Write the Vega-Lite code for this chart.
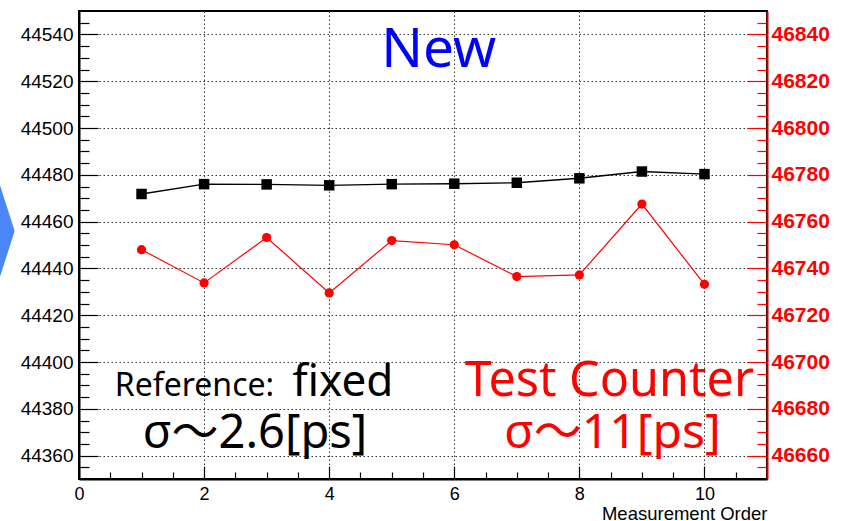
{
  "$schema": "https://vega.github.io/schema/vega-lite/v6.json",
  "width": 688,
  "height": 468,
  "autosize": {"type": "none"},
  "padding": {"left": 79, "top": 11, "right": 85, "bottom": 42},
  "background": "white",
  "config": {
    "view": {"stroke": "black", "strokeWidth": 2},
    "axis": {"labelFont": "Liberation Sans", "titleFont": "Liberation Sans"}
  },
  "datasets": {
    "runs": [
      {"order": 1, "ref": 44471.8, "test": 46748.0},
      {"order": 2, "ref": 44476.0, "test": 46733.8},
      {"order": 3, "ref": 44475.9, "test": 46753.2},
      {"order": 4, "ref": 44475.5, "test": 46729.5},
      {"order": 5, "ref": 44476.0, "test": 46751.9},
      {"order": 6, "ref": 44476.2, "test": 46750.1},
      {"order": 7, "ref": 44476.6, "test": 46736.5},
      {"order": 8, "ref": 44478.5, "test": 46737.2},
      {"order": 9, "ref": 44481.4, "test": 46767.5},
      {"order": 10, "ref": 44480.3, "test": 46733.2}
    ],
    "single": [{}]
  },
  "resolve": {
    "scale": {"x": "independent", "y": "independent"},
    "axis": {"x": "independent", "y": "independent"}
  },
  "layer": [
    {
      "data": {"name": "single"},
      "mark": {"type": "point", "opacity": 0},
      "encoding": {
        "x": {"datum": 1, "type": "quantitative", "scale": {"domain": [0, 11], "nice": false, "zero": false},
          "axis": {"orient": "bottom", "values": [0.5, 1, 1.5, 2.5, 3, 3.5, 4.5, 5, 5.5, 6.5, 7, 7.5, 8.5, 9, 9.5, 10.5],
            "tickSize": -7, "tickWidth": 1.2, "tickColor": "black", "labels": false, "domain": false, "grid": false, "title": null}},
        "y": {"datum": 44450, "type": "quantitative", "scale": {"domain": [44350, 44550], "nice": false, "zero": false}, "axis": null}
      }
    },
    {
      "data": {"name": "single"},
      "mark": {"type": "point", "opacity": 0},
      "encoding": {
        "x": {"datum": 1, "type": "quantitative", "scale": {"domain": [0, 11], "nice": false, "zero": false}, "axis": null},
        "y": {"datum": 44450, "type": "quantitative", "scale": {"domain": [44350, 44550], "nice": false, "zero": false},
          "axis": {"orient": "left", "values": [44355, 44365, 44370, 44375, 44385, 44390, 44395, 44405, 44410, 44415, 44425, 44430, 44435, 44445, 44450, 44455, 44465, 44470, 44475, 44485, 44490, 44495, 44505, 44510, 44515, 44525, 44530, 44535, 44545],
            "tickSize": -10, "tickWidth": 1.2, "tickColor": "black", "labels": false, "domain": false, "grid": false, "title": null}}
      }
    },
    {
      "data": {"name": "single"},
      "mark": {"type": "point", "opacity": 0},
      "encoding": {
        "x": {"datum": 1, "type": "quantitative", "scale": {"domain": [0, 11], "nice": false, "zero": false}, "axis": null},
        "y": {"datum": 46750, "type": "quantitative", "scale": {"domain": [46650, 46850], "nice": false, "zero": false},
          "axis": {"orient": "right", "values": [46655, 46665, 46670, 46675, 46685, 46690, 46695, 46705, 46710, 46715, 46725, 46730, 46735, 46745, 46750, 46755, 46765, 46770, 46775, 46785, 46790, 46795, 46805, 46810, 46815, 46825, 46830, 46835, 46845],
            "tickSize": -10, "tickWidth": 1.2, "tickColor": "#ff0000", "labels": false, "domain": false, "grid": false, "title": null}}
      }
    },
    {
      "data": {"name": "runs"},
      "mark": {"type": "line", "color": "black", "strokeWidth": 1.4,
        "point": {"shape": "square", "size": 110, "filled": true, "color": "black", "opacity": 1}},
      "encoding": {
        "x": {"field": "order", "type": "quantitative", "scale": {"domain": [0, 11], "nice": false, "zero": false},
          "axis": {"orient": "bottom", "values": [0, 2, 4, 6, 8, 10], "tickSize": -13, "tickWidth": 1.2, "tickColor": "black",
            "domainColor": "black", "domainWidth": 2, "labelFontSize": 18, "labelColor": "black", "labelBaseline": "alphabetic", "labelPadding": 33,
            "labelFlush": false, "labelOverlap": false,
            "grid": true, "gridColor": "#333333", "gridDash": [1.5, 2.5], "gridWidth": 1,
            "title": "Measurement Order", "titleFontSize": 18.5, "titleFontWeight": "normal", "titleColor": "black",
            "titleX": 688, "titleY": 40, "titleAlign": "right", "titleBaseline": "alphabetic"}},
        "y": {"field": "ref", "type": "quantitative", "scale": {"domain": [44350, 44550], "nice": false, "zero": false},
          "axis": {"orient": "left", "values": [44360, 44380, 44400, 44420, 44440, 44460, 44480, 44500, 44520, 44540], "format": "d",
            "tickSize": -19, "tickWidth": 1.2, "tickColor": "black", "domainColor": "black", "domainWidth": 2,
            "labelFontSize": 19, "labelColor": "black", "labelPadding": 25, "labelFlush": false, "labelOverlap": false,
            "grid": true, "gridColor": "#333333", "gridDash": [1.5, 2.5], "gridWidth": 1, "title": null}}
      }
    },
    {
      "data": {"name": "runs"},
      "mark": {"type": "line", "color": "#ff0000", "strokeWidth": 1.2,
        "point": {"shape": "circle", "size": 85, "filled": true, "color": "#ff0000", "opacity": 1}},
      "encoding": {
        "x": {"field": "order", "type": "quantitative", "scale": {"domain": [0, 11], "nice": false, "zero": false}, "axis": null},
        "y": {"field": "test", "type": "quantitative", "scale": {"domain": [46650, 46850], "nice": false, "zero": false},
          "axis": {"orient": "right", "values": [46660, 46680, 46700, 46720, 46740, 46760, 46780, 46800, 46820, 46840], "format": "d",
            "tickSize": -20, "tickWidth": 1.2, "tickColor": "#ff0000", "domainColor": "#c40000", "domainWidth": 2,
            "labelFontSize": 21, "labelFontWeight": "bold", "labelColor": "#ff0000", "labelPadding": 24, "labelFlush": false, "labelOverlap": false,
            "grid": false, "title": null}}
      }
    },
    {
      "data": {"name": "single"},
      "mark": {"type": "point", "shape": "M -10 -75 L 14 0 L -10 75 Z", "size": 4, "filled": true, "color": "#4a86f5", "opacity": 1, "strokeWidth": 0, "clip": false},
      "encoding": {
        "x": {"datum": -1.253, "type": "quantitative", "scale": {"domain": [0, 11], "nice": false, "zero": false}, "axis": null},
        "y": {"datum": 44456, "type": "quantitative", "scale": {"domain": [44350, 44550], "nice": false, "zero": false}, "axis": null}
      }
    },
    {
      "data": {"name": "single"},
      "mark": {"type": "text", "text": "New", "font": "Noto Sans, Noto Sans CJK JP", "fontSize": 55, "color": "#0000ff", "align": "center", "baseline": "alphabetic"},
      "encoding": {
        "x": {"datum": 5.75, "type": "quantitative", "scale": {"domain": [0, 11], "nice": false, "zero": false}, "axis": null},
        "y": {"datum": 44526, "type": "quantitative", "scale": {"domain": [44350, 44550], "nice": false, "zero": false}, "axis": null}
      }
    },
    {
      "data": {"name": "single"},
      "mark": {"type": "text", "text": "Reference:", "font": "Noto Sans, Noto Sans CJK JP", "fontSize": 32, "color": "black", "align": "right", "baseline": "alphabetic"},
      "encoding": {
        "x": {"datum": 3.12, "type": "quantitative", "scale": {"domain": [0, 11], "nice": false, "zero": false}, "axis": null},
        "y": {"datum": 44385.5, "type": "quantitative", "scale": {"domain": [44350, 44550], "nice": false, "zero": false}, "axis": null}
      }
    },
    {
      "data": {"name": "single"},
      "mark": {"type": "text", "text": "fixed", "font": "Noto Sans, Noto Sans CJK JP", "fontSize": 44, "color": "black", "align": "left", "baseline": "alphabetic"},
      "encoding": {
        "x": {"datum": 3.414, "type": "quantitative", "scale": {"domain": [0, 11], "nice": false, "zero": false}, "axis": null},
        "y": {"datum": 44385.5, "type": "quantitative", "scale": {"domain": [44350, 44550], "nice": false, "zero": false}, "axis": null}
      }
    },
    {
      "data": {"name": "single"},
      "mark": {"type": "text", "text": "σ～2.6[ps]", "font": "Noto Sans, Noto Sans CJK JP", "fontSize": 47, "color": "black", "align": "center", "baseline": "alphabetic"},
      "encoding": {
        "x": {"datum": 2.814, "type": "quantitative", "scale": {"domain": [0, 11], "nice": false, "zero": false}, "axis": null},
        "y": {"datum": 44363.1, "type": "quantitative", "scale": {"domain": [44350, 44550], "nice": false, "zero": false}, "axis": null}
      }
    },
    {
      "data": {"name": "single"},
      "mark": {"type": "text", "text": "Test Counter", "font": "Noto Sans, Noto Sans CJK JP", "fontSize": 48.5, "color": "#ff0000", "align": "center", "baseline": "alphabetic"},
      "encoding": {
        "x": {"datum": 8.48, "type": "quantitative", "scale": {"domain": [0, 11], "nice": false, "zero": false}, "axis": null},
        "y": {"datum": 44385.5, "type": "quantitative", "scale": {"domain": [44350, 44550], "nice": false, "zero": false}, "axis": null}
      }
    },
    {
      "data": {"name": "single"},
      "mark": {"type": "text", "text": "σ～11[ps]", "font": "Noto Sans, Noto Sans CJK JP", "fontSize": 48, "color": "#ff0000", "align": "center", "baseline": "alphabetic"},
      "encoding": {
        "x": {"datum": 8.53, "type": "quantitative", "scale": {"domain": [0, 11], "nice": false, "zero": false}, "axis": null},
        "y": {"datum": 44363.1, "type": "quantitative", "scale": {"domain": [44350, 44550], "nice": false, "zero": false}, "axis": null}
      }
    }
  ]
}
